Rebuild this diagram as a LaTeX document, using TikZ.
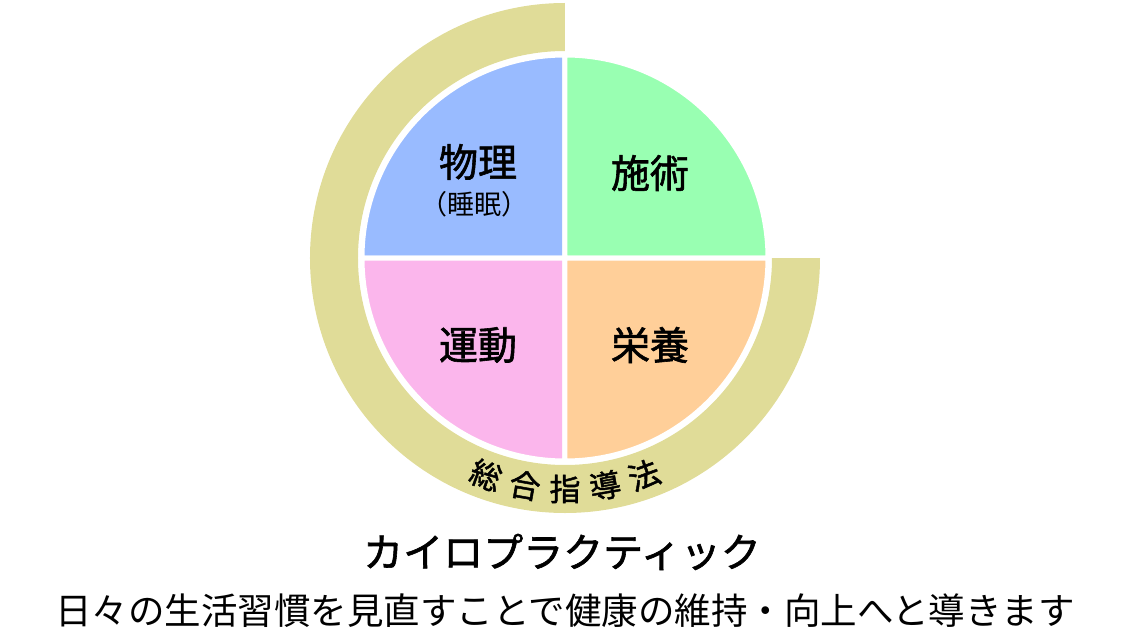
\documentclass[tikz,border=0pt]{standalone}
\usepackage{fontspec}
\setmainfont{Noto Sans CJK JP}
\newfontfamily\jpbold{Noto Sans CJK JP}[FakeBold=1.5]
\definecolor{ringc}{HTML}{E0DC98}
\definecolor{quadblue}{HTML}{99BBFF}
\definecolor{quadgreen}{HTML}{99FFB2}
\definecolor{quadpink}{HTML}{FBB6EC}
\definecolor{quadorange}{HTML}{FFCF99}
\tikzset{
    quad/.style={draw=white, line width=5pt},
    label/.style={font=\fontsize{39}{39}\selectfont\jpbold, inner sep=0pt},
    ringchar/.style={font=\fontsize{31}{31}\selectfont\jpbold, inner sep=0pt}
}
\begin{document}
\begin{tikzpicture}[x=1pt,y=1pt]
    \useasboundingbox (-565,-382) rectangle (565,258);
    % ring
    \fill[ringc] (0:255) arc[start angle=0, end angle=-270, radius=255]
        -- (90:207) arc[start angle=90, end angle=360, radius=207] -- cycle;
    % quadrants
    \filldraw[quad, fill=quadblue] (0,0) -- (180:203) arc[start angle=180, end angle=90, radius=203] -- cycle;
    \filldraw[quad, fill=quadgreen] (0,0) -- (90:203) arc[start angle=90, end angle=0, radius=203] -- cycle;
    \filldraw[quad, fill=quadpink] (0,0) -- (270:203) arc[start angle=270, end angle=180, radius=203] -- cycle;
    \filldraw[quad, fill=quadorange] (0,0) -- (0:203) arc[start angle=0, end angle=-90, radius=203] -- cycle;
    \node[label] (phys) at (-87,96) {物理};
    \node[font=\fontsize{27}{27}\selectfont, inner sep=0pt] (sleep) at (-90,54) {（睡眠）};
    \node[label] (treat) at (85,85) {施術};
    \node[label] (move) at (-87,-87) {運動};
    \node[label] (food) at (85,-87) {栄養};
    % ring text
    \foreach \ch [count=\i] in {総,合,指,導,法} {
        \node[ringchar, rotate={240+10*\i+90}] (rc\i) at ({240+10*\i}:231) {\ch};
    }
    \node[font=\fontsize{40}{40}\selectfont\jpbold, inner sep=0pt] (chiro) at (-3,-294) {カイロプラクティック};
    \node[font=\fontsize{36.5}{36.5}\selectfont, inner sep=0pt] (motto) at (0,-353) {日々の生活習慣を見直すことで健康の維持・向上へと導きます};
\end{tikzpicture}
\end{document}
